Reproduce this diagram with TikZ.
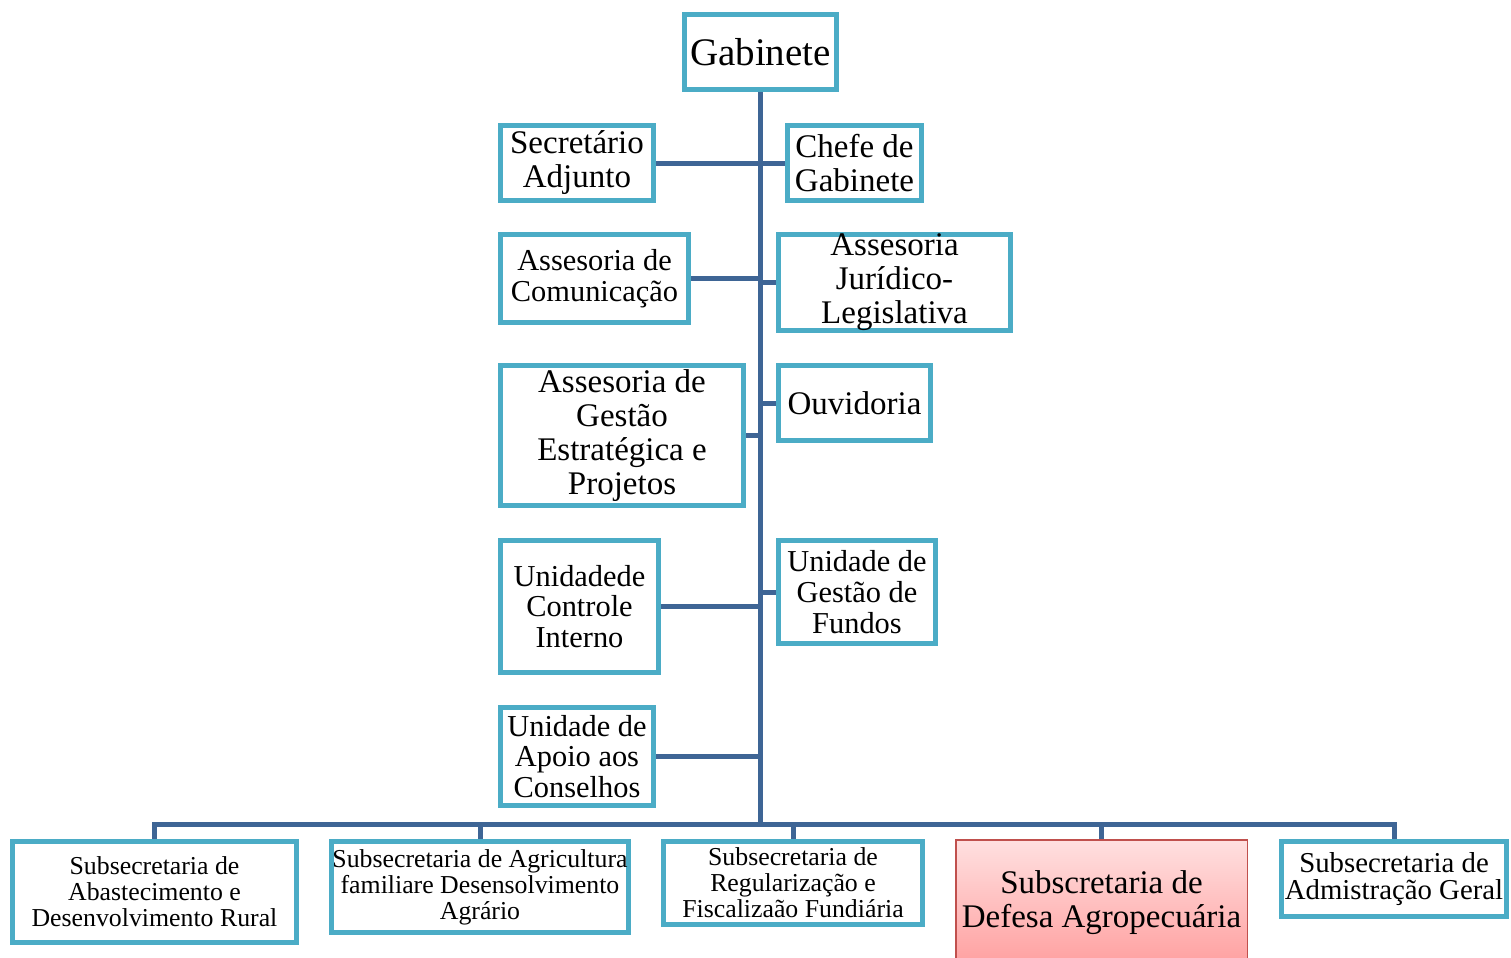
\documentclass[tikz,border=0pt]{standalone}
\usepackage{fontspec}
\setmainfont{Liberation Serif}
\usepackage{tikz}
\usetikzlibrary{backgrounds}
\definecolor{boxblue}{RGB}{75,172,198}
\definecolor{linkblue}{RGB}{62,101,149}
\definecolor{focusred}{RGB}{192,80,77}
\definecolor{pinktop}{RGB}{255,224,224}
\definecolor{pinkbot}{RGB}{255,160,160}
\newcommand{\orgunit}[5]{node[#2, minimum width=#3, minimum height=#4] (#1) {#5}}

\begin{document}
\begin{tikzpicture}[
      x=0.5pt, y=-0.5pt,
      box/.style={rectangle, draw=boxblue, line width=2.5pt, fill=white, align=center, inner sep=0pt},
      big/.style={box, font=\fontsize{16.5}{17}\selectfont},
      mid/.style={box, font=\fontsize{15.2}{15.4}\selectfont},
      small/.style={box, font=\fontsize{12.9}{13}\selectfont},
      focus/.style={box, draw=focusred, line width=0.75pt, top color=pinktop, bottom color=pinkbot,
                    font=\fontsize{16.5}{17}\selectfont},
      link/.style={draw=linkblue, line width=2.5pt}
      ]
      \useasboundingbox (0,0) rectangle (1511,958);
      % top and staff units
      \path (760.5,52) \orgunit{gab}{box, font=\fontsize{19.5}{20}\selectfont}{76pt}{37.5pt}{Gabinete};
      \path (577,163) \orgunit{adj}{big}{76.5pt}{37.5pt}{Secretário\\Adjunto};
      \path (854.5,163) \orgunit{chefe}{big}{67pt}{37.5pt}{Chefe de\\Gabinete};
      \path (594.5,278.5) \orgunit{com}{mid}{94pt}{44pt}{Assesoria de\\Comunicação};
      \path (894.5,282.5) \orgunit{jur}{big}{116pt}{48pt}{Assesoria\\Jurídico-\\Legislativa};
      \path (622,435.5) \orgunit{gest}{big}{121.5pt}{70pt}{Assesoria de\\Gestão\\Estratégica e\\Projetos};
      \path (854.5,403) \orgunit{ouv}{big}{76pt}{37.5pt}{Ouvidoria};
      \path (579.5,606.5) \orgunit{ctrl}{mid}{79pt}{66pt}{Unidadede\\Controle\\Interno};
      \path (857,592) \orgunit{fund}{mid}{78.5pt}{51.5pt}{Unidade de\\Gestão de\\Fundos};
      \path (577,756.5) \orgunit{apoio}{mid}{76.5pt}{49pt}{Unidade de\\Apoio aos\\Conselhos};
      % subsecretarias
      \path (154.5,892) \orgunit{subA}{small}{142pt}{50.5pt}{Subsecretaria de\\Abastecimento e\\Desenvolvimento Rural};
      \path (480,887) \orgunit{subB}{small}{148.5pt}{45.5pt}{Subsecretaria de Agricultura\\familiare Desensolvimento\\Agrário};
      \path (793,883) \orgunit{subC}{small}{129.5pt}{41.5pt}{Subsecretaria de\\Regularização e\\Fiscalizaão Fundiária};
      \path (1101.5,902.5) \orgunit{subD}{focus}{145.75pt}{62.5pt}{Subscretaria de\\Defesa Agropecuária};
      \path (1394,879) \orgunit{subE}{small, font=\fontsize{14.4}{13.5}\selectfont}{112.5pt}{37.5pt}{Subsecretaria de\\Admistração Geral};
      \coordinate (bus) at (760.5,824);
      \begin{pgfonlayer}{background}
        \draw[link] (gab.south) -- (bus);
        \draw[link] (adj.east) -- (chefe.west);
        \draw[link] (com.east) -- (com.east -| bus);
        \draw[link] (jur.west) -- (jur.west -| bus);
        \draw[link] (gest.east) -- (gest.east -| bus);
        \draw[link] (ouv.west) -- (ouv.west -| bus);
        \draw[link] (ctrl.east) -- (ctrl.east -| bus);
        \draw[link] (fund.west) -- (fund.west -| bus);
        \draw[link] (apoio.east) -- (apoio.east -| bus);
        \draw[link] (subA.north) |- (bus) -| (subE.north);
        \draw[link] (subB.north) -- (subB.north |- bus);
        \draw[link] (subC.north) -- (subC.north |- bus);
        \draw[link] (subD.north) -- (subD.north |- bus);
      \end{pgfonlayer}
    \end{tikzpicture}
\end{document}
